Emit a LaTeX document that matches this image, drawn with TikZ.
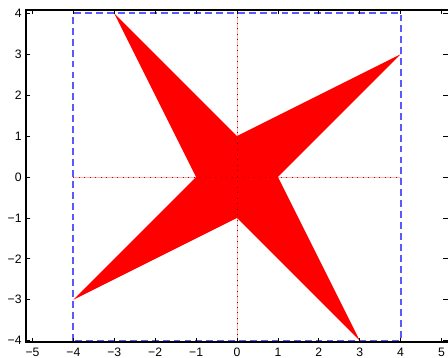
\documentclass[tikz,border=0pt]{standalone}
\usepackage{fontspec}
\setmainfont{Liberation Sans}
\usetikzlibrary{calc}

\begin{document}
\begin{tikzpicture}[font=\fontsize{8.5}{10}\selectfont,
  riquadro/.style={blue!65!white, line width=1.3pt, dash pattern=on 4.8pt off 2.8pt},
  guida/.style={red!30, line width=0.5pt},
  puntini/.style={red!55!black, line width=0.6pt, dash pattern=on 0.6pt off 3.2pt},
  puntinirossi/.style={red!75!black, line width=0.6pt, dash pattern=on 0.6pt off 3.2pt}]
\useasboundingbox (-5.795,-4.425) rectangle (5.159,4.328);
% --- linee guida sotto la stella ---
\draw[guida] (-4,0) -- (4,0);
\draw[guida] (0,-4) -- (0,4);
% --- stella ---
\fill[red] (-1,0) -- (-3,4) -- (0,1) -- (4,3) -- (1,0) -- (3,-4) -- (0,-1) -- (-4,-3) -- cycle;
\draw[puntinirossi] (-4,0) -- (4,0);
\draw[puntini] (0,-4) -- (0,4);
\draw[riquadro] (-4,-4) rectangle (4,4);
% --- assi ---
\draw[line width=1pt] (5.3,4.083) -- (-5.159,4.083) -- (-5.159,-4.034) -- (5.3,-4.034);
\foreach \x in {-5,...,5} {
  \draw[line width=0.5pt] (\x,-4.034) -- ++(0,0.1);
  \draw[line width=0.5pt] (\x,4.083) -- ++(0,-0.1);
  \node[anchor=north, inner sep=0pt] at (\x,-4.17) {\ifnum\x<0 −\number\numexpr-\x\relax\else\x\fi};
}
\foreach \y in {-4,...,4} {
  \draw[line width=0.5pt] (-5.159,\y) -- ++(0.1,0);
  \draw[line width=0.5pt] (5.159,\y) -- ++(-0.12,0);
  \node[anchor=east, inner sep=0pt] at (-5.26,\y) {\ifnum\y<0 −\number\numexpr-\y\relax\else\y\fi};
}
\end{tikzpicture}
\end{document}
